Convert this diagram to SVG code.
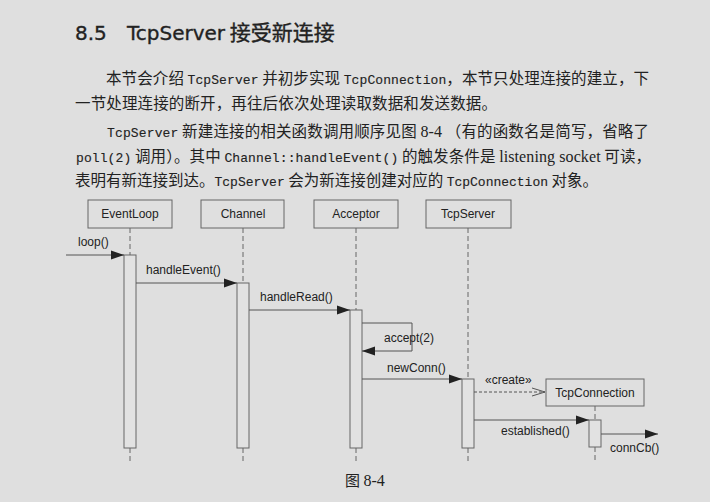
<svg xmlns="http://www.w3.org/2000/svg" width="710" height="502" viewBox="0 0 710 502">
<defs>
<marker id="fill" markerUnits="userSpaceOnUse" markerWidth="14" markerHeight="10" refX="13" refY="5" orient="auto">
<path d="M0,0.5 L13,5 L0,9.5 Z" fill="#222"/>
</marker>
<marker id="open" markerUnits="userSpaceOnUse" markerWidth="14" markerHeight="10" refX="13" refY="5" orient="auto">
<path d="M0,1 L13,5 L0,9" fill="none" stroke="#555" stroke-width="1"/>
</marker>
<style>
.box{fill:none;stroke:#666;stroke-width:1}
.act{fill:#e2e2e2;stroke:#666;stroke-width:1}
.life{stroke:#666;stroke-width:1;stroke-dasharray:5 3;fill:none}
.msg{stroke:#555;stroke-width:1;fill:none}
.lbl{font-family:"Liberation Sans",Arial,sans-serif;font-size:12px;fill:#222}
.cjk{font-family:"Noto Sans CJK SC",sans-serif;font-size:15.5px;fill:#222}
.mono{font-family:"Liberation Mono","DejaVu Sans Mono",monospace;font-size:13px;stroke:#222;stroke-width:0.12}
.serif{font-family:"Liberation Serif",serif;font-size:16px}
.title{font-family:"DejaVu Sans",sans-serif;font-size:20px;fill:#222;stroke:#222;stroke-width:0.35}
</style>
</defs>
<rect width="710" height="502" fill="#dfdfdf"/>

<text class="title" x="75" y="40">8.5</text>
<text class="title" x="127" y="40">TcpServer<tspan font-family="Noto Sans CJK SC,sans-serif" font-size="21"> 接受新连接</tspan></text>

<text class="cjk" x="106" y="84" textLength="543" lengthAdjust="spacing">本节会介绍 <tspan class="mono">TcpServer</tspan> 并初步实现 <tspan class="mono">TcpConnection</tspan>，本节只处理连接的建立，下</text>
<text class="cjk" x="75" y="109" textLength="422" lengthAdjust="spacing">一节处理连接的断开，再往后依次处理读取数据和发送数据。</text>
<text class="cjk" x="107" y="137" textLength="542" lengthAdjust="spacing"><tspan class="mono">TcpServer</tspan> 新建连接的相关函数调用顺序见图 <tspan class="serif">8-4</tspan> （有的函数名是简写，省略了</text>
<text class="cjk" x="76" y="162" textLength="575" lengthAdjust="spacing"><tspan class="mono">poll(2)</tspan> 调用）。其中 <tspan class="mono">Channel::handleEvent()</tspan> 的触发条件是 <tspan class="serif">listening socket</tspan> 可读，</text>
<text class="cjk" x="75" y="186" textLength="523" lengthAdjust="spacing">表明有新连接到达。<tspan class="mono">TcpServer</tspan> 会为新连接创建对应的 <tspan class="mono">TcpConnection</tspan> 对象。</text>

<g id="eventloop">
<rect class="box" x="88" y="200" width="84" height="28"/>
<text class="lbl" x="130" y="218" text-anchor="middle">EventLoop</text>
<line class="life" x1="130" y1="228" x2="130" y2="255"/>
<rect class="act" x="124" y="255" width="12" height="193"/>
<line class="life" x1="130" y1="448" x2="130" y2="463"/>
</g>
<g id="channel">
<rect class="box" x="201" y="200" width="83" height="28"/>
<text class="lbl" x="243" y="218" text-anchor="middle">Channel</text>
<line class="life" x1="243" y1="228" x2="243" y2="283"/>
<rect class="act" x="237" y="283" width="12" height="165"/>
<line class="life" x1="243" y1="448" x2="243" y2="463"/>
</g>
<g id="acceptor">
<rect class="box" x="314" y="200" width="84" height="28"/>
<text class="lbl" x="356" y="218" text-anchor="middle">Acceptor</text>
<line class="life" x1="356" y1="228" x2="356" y2="310"/>
<rect class="act" x="350" y="310" width="12" height="138"/>
<line class="life" x1="356" y1="448" x2="356" y2="463"/>
</g>
<g id="tcpserver">
<rect class="box" x="426" y="200" width="85" height="28"/>
<text class="lbl" x="468" y="218" text-anchor="middle">TcpServer</text>
<line class="life" x1="468" y1="228" x2="468" y2="379"/>
<rect class="act" x="462" y="379" width="12" height="69"/>
<line class="life" x1="468" y1="448" x2="468" y2="463"/>
</g>
<g id="tcpconnection">
<rect class="box" x="546" y="379" width="98" height="27"/>
<text class="lbl" x="595" y="397" text-anchor="middle">TcpConnection</text>
<line class="life" x1="595" y1="406" x2="595" y2="420"/>
<rect class="act" x="589" y="420" width="12" height="27"/>
<line class="life" x1="595" y1="447" x2="595" y2="463"/>
</g>

<g id="connectors">
<line class="msg" x1="66" y1="255" x2="124" y2="255" marker-end="url(#fill)"/>
<line class="msg" x1="136" y1="283" x2="237" y2="283" marker-end="url(#fill)"/>
<line class="msg" x1="249" y1="310" x2="350" y2="310" marker-end="url(#fill)"/>
<polyline class="msg" points="362,323 412,323 412,351 362,351" marker-end="url(#fill)"/>
<line class="msg" x1="362" y1="379" x2="462" y2="379" marker-end="url(#fill)"/>
<line class="msg" x1="474" y1="392" x2="545" y2="392" stroke-dasharray="3 2" marker-end="url(#open)"/>
<line class="msg" x1="474" y1="420" x2="589" y2="420" marker-end="url(#fill)"/>
<line class="msg" x1="601" y1="434" x2="658" y2="434" marker-end="url(#fill)"/>
<text class="lbl" x="78" y="246">loop()</text>
<text class="lbl" x="146" y="274">handleEvent()</text>
<text class="lbl" x="260" y="301">handleRead()</text>
<text class="lbl" x="384" y="342">accept(2)</text>
<text class="lbl" x="387" y="372">newConn()</text>
<text class="lbl" x="485" y="384">«create»</text>
<text class="lbl" x="501" y="435">established()</text>
<text class="lbl" x="610" y="452">connCb()</text>
</g>

<text x="345" y="486" font-family="Noto Sans CJK SC,sans-serif" font-size="15" fill="#222">图 <tspan font-family="Liberation Serif,serif" font-size="16">8-4</tspan></text>
</svg>
